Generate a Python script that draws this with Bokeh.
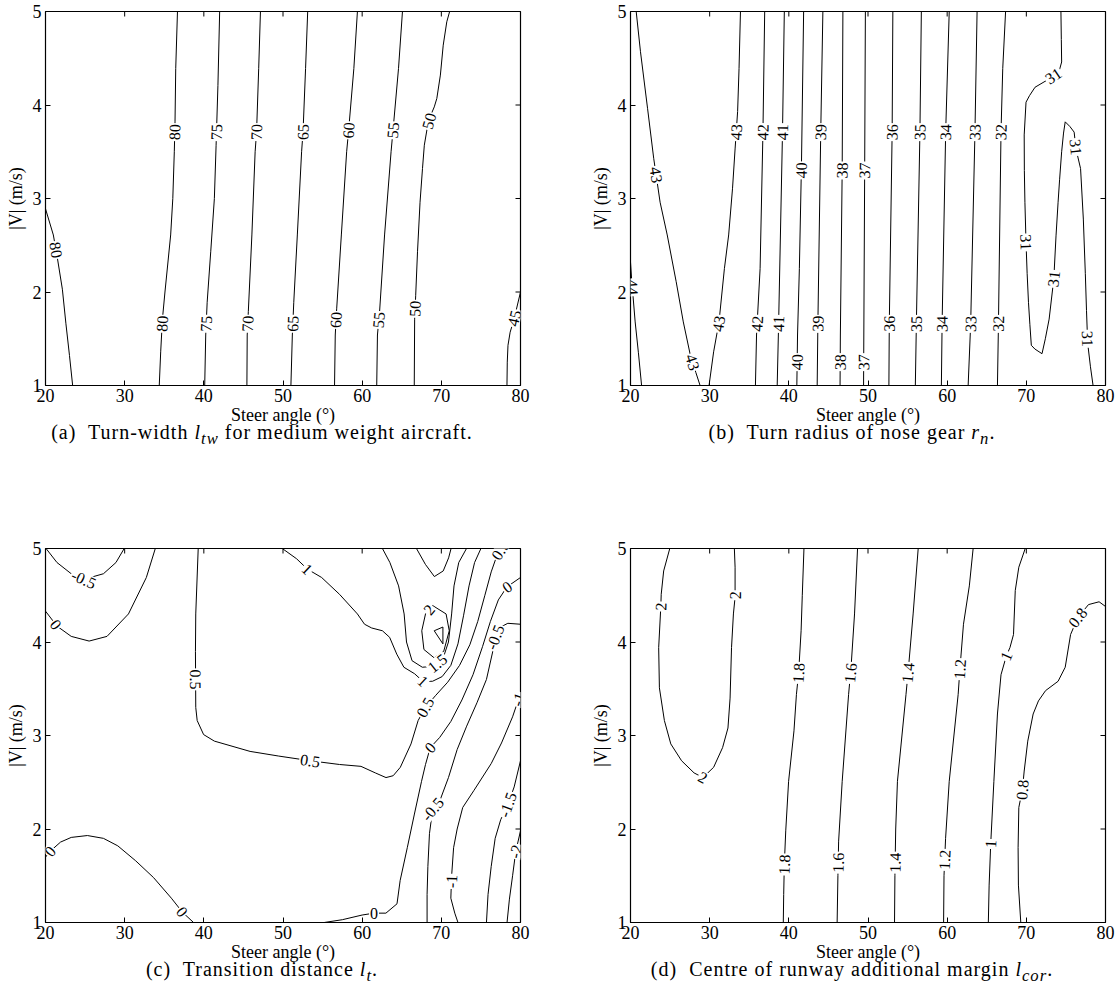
import math
from bokeh.plotting import figure
from bokeh.models import ColumnDataSource, FixedTicker, Range1d, Div
from bokeh.layouts import column, row
from bokeh.embed import file_html
from bokeh.resources import INLINE
from bokeh.core.properties import value

X_TICKS = [20, 30, 40, 50, 60, 70, 80]
Y_TICKS = [1, 2, 3, 4, 5]
X_LABEL = "Steer angle (°)"
Y_LABEL = "|V| (m/s)"

# ---------------- Panel (a): turn-width ----------------
a_lines = [
    ([20.0, 20.99, 21.45, 22.13, 22.58, 23.03, 23.43], [2.89, 2.61, 2.39, 2.03, 1.66, 1.32, 1.0]),
    ([36.67, 36.45, 36.36, 36.27, 36.08, 35.81, 35.09, 34.77, 34.55, 34.37], [5, 4.39, 3.82, 3.5, 3.0, 2.61, 2.0, 1.71, 1.36, 1.0]),
    ([42.0, 41.78, 41.55, 41.33, 40.87, 40.42, 40.24, 40.11], [5, 4.21, 3.57, 3.0, 2.43, 1.89, 1.54, 1.0]),
    ([47.15, 46.93, 46.66, 46.48, 46.07, 45.62, 45.48, 45.44], [5, 4.39, 3.71, 3.5, 2.61, 1.79, 1.54, 1.0]),
    ([53.12, 52.85, 52.53, 52.35, 51.81, 51.36, 51.18, 51.0], [5, 4.39, 3.71, 3.5, 2.61, 1.89, 1.54, 1.0]),
    ([59.4, 58.95, 58.27, 58.04, 57.37, 56.78, 56.6, 56.51], [5, 4.39, 3.71, 3.5, 2.61, 1.82, 1.54, 1.0]),
    ([65.09, 64.59, 63.92, 63.65, 62.83, 62.2, 61.93, 61.84], [5, 4.39, 3.75, 3.5, 2.61, 1.79, 1.54, 1.0]),
    ([71.05, 70.69, 70.24, 69.88, 69.43, 69.11, 68.66, 68.21, 67.85, 67.62, 67.31, 66.99, 66.76, 66.63, 66.58],
     [5.0, 4.89, 4.64, 4.32, 4.07, 3.98, 3.89, 3.75, 3.57, 3.32, 2.96, 2.43, 1.96, 1.71, 1.0]),
    ([78.29, 78.33, 78.42, 78.69, 79.19, 80.0], [1.0, 1.25, 1.43, 1.57, 1.71, 2.0]),
]
a_lab_text = ["80", "80", "80", "75", "75", "70", "70", "65", "65", "60", "60", "55", "55", "50", "50", "45"]
a_lab_x = [21.35, 36.36, 34.85, 41.5, 40.33, 46.66, 45.58, 52.53, 51.3, 58.3, 56.85, 63.85, 62.25, 68.4, 66.7, 79.2]
a_lab_y = [2.45, 3.71, 1.66, 3.71, 1.66, 3.71, 1.66, 3.71, 1.66, 3.73, 1.70, 3.73, 1.70, 3.83, 1.82, 1.72]

# ---------------- Panel (b): nose-gear turn radius ----------------
b_lines = [
    ([20.0, 20.14, 20.59, 21.0, 21.4], [2.32, 2.14, 1.68, 1.35, 1.0]),
    ([20.72, 21.26, 22.16, 22.93, 23.74, 24.64, 25.77, 26.67, 27.57, 28.25, 28.79],
     [5.0, 4.57, 3.96, 3.43, 2.96, 2.61, 2.11, 1.68, 1.32, 1.14, 1.0]),
    ([29.92, 30.5, 31.18, 31.86, 32.4, 32.89, 33.21, 33.53, 33.71, 33.89],
     [1.0, 1.36, 1.68, 2.25, 2.61, 3.11, 3.53, 3.93, 4.39, 5.0]),
    ([36.95, 36.73, 36.37, 35.92, 35.78], [5, 3.71, 2.25, 1.54, 1.0]),
    ([39.43, 39.2, 38.71, 38.53], [5, 3.71, 1.66, 1.0]),
    ([41.87, 41.6, 41.33, 41.1, 41.01], [5, 3.39, 2.25, 1.54, 1.0]),
    ([44.3, 44.03, 43.67, 43.58], [5, 3.71, 1.66, 1.0]),
    ([46.83, 46.74, 46.51, 46.47], [5, 3.32, 1.54, 1.0]),
    ([49.67, 49.58, 49.44], [5, 3.32, 1.0]),
    ([53.14, 53.05, 52.69, 52.64], [5, 3.71, 1.66, 1.0]),
    ([56.74, 56.56, 56.11, 55.98], [5, 3.71, 1.66, 1.0]),
    ([60.26, 59.81, 59.36, 59.27], [5, 3.71, 1.66, 1.0]),
    ([63.78, 63.51, 62.97, 62.65], [5, 3.71, 1.66, 1.0]),
    ([67.38, 67.02, 66.8, 66.48, 66.35], [5, 4.39, 3.71, 1.66, 1.0]),
    ([74.37, 74.42, 74.46, 74.2, 73.56, 72.5, 71.1, 70.4, 69.96, 69.73, 69.75, 69.82, 69.96, 70.1, 70.27, 70.45,
      70.63, 71.08, 71.98, 72.4, 72.88, 73.47, 73.75, 74.01, 74.2, 74.46, 74.7, 74.91, 75.5, 76.04, 76.27, 76.85,
      77.2, 77.45, 77.6, 77.75, 78.1, 78.43],
     [5.0, 4.7, 4.46, 4.38, 4.32, 4.26, 4.19, 4.1, 4.03, 3.68, 3.3, 2.96, 2.53, 2.2, 1.89, 1.65,
      1.43, 1.39, 1.34, 1.5, 1.71, 2.14, 2.6, 2.96, 3.2, 3.5, 3.7, 3.82, 3.77, 3.71, 3.53, 3.32,
      2.78, 2.2, 1.8, 1.45, 1.2, 1.0]),
]
b_lab_text = ["44", "43", "43", "43", "43", "42", "42", "41", "41", "40", "40", "39", "39", "38", "38", "37", "37",
              "36", "36", "35", "35", "34", "34", "33", "33", "32", "32", "31", "31", "31", "31", "31"]
b_lab_x = [20.2, 23.1, 27.9, 31.2, 33.4, 36.8, 36.1, 39.2, 38.7, 41.6, 41.05, 44.05, 43.67, 46.75, 46.49, 49.58, 49.45,
           53.05, 52.7, 56.56, 56.1, 59.8, 59.36, 63.5, 62.97, 66.8, 66.48, 73.5, 69.96, 73.47, 76.2, 77.7]
b_lab_y = [2.05, 3.25, 1.25, 1.66, 3.71, 3.71, 1.66, 3.71, 1.66, 3.3, 1.25, 3.71, 1.66, 3.3, 1.25, 3.3, 1.25,
           3.71, 1.66, 3.71, 1.66, 3.71, 1.66, 3.71, 1.66, 3.71, 1.66, 4.3, 2.53, 2.14, 3.55, 1.5]

# ---------------- Panel (c): transition distance ----------------
c_lines = [
    ([20.07, 21.45, 23.25, 24.83, 27.32, 28.9, 29.94], [5.0, 4.85, 4.73, 4.67, 4.73, 4.85, 5.0]),
    ([20.0, 21.45, 23.25, 25.51, 27.77, 30.48, 32.74, 33.87], [4.33, 4.17, 4.06, 4.01, 4.06, 4.3, 4.69, 5.0]),
    ([39.29, 38.98, 38.94, 38.98, 39.16, 39.97, 41.33, 45.84, 49.46, 53.43, 57.14, 59.85, 61.66, 63.01, 63.92,
      64.82, 66.17, 67.07, 67.98, 69.3, 70.8, 72.3, 73.6, 74.6, 75.5, 76.3, 77.0, 77.6],
     [5.0, 4.3, 3.9, 3.3, 3.16, 3.01, 2.94, 2.83, 2.78, 2.73, 2.69, 2.67, 2.6, 2.55, 2.57,
      2.66, 2.91, 3.16, 3.30, 3.43, 3.57, 3.75, 3.97, 4.22, 4.5, 4.75, 4.92, 5.0]),
    ([49.91, 51.72, 53.07, 54.88, 57.14, 59.4, 60.3, 61.2, 62.56, 63.47, 64.37, 65.27, 66.63, 67.66, 68.89, 70.1,
      71.2, 72.1, 72.8, 73.5, 74.2, 75.0],
     [5.0, 4.89, 4.78, 4.69, 4.51, 4.3, 4.19, 4.15, 4.12, 4.05, 3.87, 3.73, 3.66, 3.58, 3.58, 3.63,
      3.75, 3.98, 4.28, 4.6, 4.85, 5.0]),
    ([62.56, 63.5, 64.6, 65.3, 65.6, 66.3, 67.6, 69.0, 70.2, 70.9, 71.3, 71.6, 72.2, 73.18],
     [5.0, 4.85, 4.6, 4.3, 4.0, 3.8, 3.73, 3.74, 3.82, 4.0, 4.3, 4.6, 4.85, 5.0]),
    ([66.86, 67.99, 69.12, 70.24, 70.92, 71.23], [5.0, 4.83, 4.7, 4.76, 4.9, 5.0]),
    ([68.9, 68.0, 67.53, 67.8, 69.1, 70.3, 71.0, 70.6, 68.9], [4.39, 4.3, 4.12, 3.92, 3.83, 3.9, 4.12, 4.3, 4.39]),
    ([69.1, 70.2, 70.2, 69.1], [4.12, 4.16, 3.98, 4.12]),
    ([80.0, 78.3, 77.2, 76.2, 75.2, 74.0, 72.6, 71.2, 69.8, 68.6, 68.0, 67.5, 66.6, 65.7, 64.8, 64.4, 63.0, 61.5, 60.0,
      57.5, 55.2],
     [4.69, 4.59, 4.45, 4.22, 3.95, 3.65, 3.38, 3.15, 2.98, 2.87, 2.69, 2.51, 2.16, 1.8, 1.45, 1.2, 1.1, 1.1, 1.08,
      1.03, 1.0]),
    ([80.0, 78.4, 77.25, 76.8, 76.5, 75.7, 74.5, 73.2, 72.0, 70.9, 69.8, 68.9, 68.5, 68.3, 68.2, 68.2],
     [4.19, 4.2, 4.15, 4.05, 3.9, 3.6, 3.35, 3.1, 2.85, 2.55, 2.3, 2.21, 1.95, 1.6, 1.3, 1.0]),
    ([80.0, 79.0, 77.6, 76.3, 74.1, 72.7, 72.0, 71.55, 71.3, 71.2, 71.7, 72.1],
     [3.45, 3.2, 2.92, 2.7, 2.41, 2.23, 2.0, 1.8, 1.5, 1.26, 1.1, 1.0]),
    ([80.0, 79.2, 78.4, 77.5, 76.8, 76.3, 75.9, 75.7], [2.73, 2.45, 2.26, 2.1, 1.9, 1.6, 1.3, 1.0]),
    ([80.0, 79.4, 79.0, 78.6, 78.3], [1.98, 1.76, 1.5, 1.25, 1.0]),
    ([20.0, 20.7, 21.9, 23.25, 25.29, 27.32, 29.13, 31.39, 33.65, 35.9, 37.3, 38.7],
     [1.70, 1.77, 1.86, 1.91, 1.93, 1.9, 1.82, 1.66, 1.48, 1.26, 1.11, 1.0]),
]
c_lab_text = ["-0.5", "0", "0.5", "0.5", "0.5", "1", "1", "2", "1.5", "0", "-0.5", "0", "-0.5", "0.5", "-1", "-1",
              "-1.5", "-2", "0", "0", "0"]
c_lab_x = [24.83, 21.2, 38.96, 53.43, 67.98, 53.07, 67.66, 68.4, 69.9, 78.3, 76.8, 68.6, 68.9, 77.9, 79.6, 71.2, 78.4,
           79.4, 20.6, 37.3, 61.5]
c_lab_y = [4.67, 4.18, 3.6, 2.73, 3.30, 4.78, 3.58, 4.35, 3.73, 4.59, 4.05, 2.87, 2.21, 4.96, 3.39, 1.44, 2.26,
           1.76, 1.76, 1.12, 1.1]

# ---------------- Panel (d): centre of runway margin ----------------
d_lines = [
    ([24.96, 24.19, 23.88, 23.83, 23.56, 23.65, 24.28, 25.09, 26.45, 28.03, 29.15, 30.5, 31.63, 32.31, 32.58, 32.76,
      33.0, 33.21, 33.21, 33.12],
     [5.0, 4.76, 4.51, 4.38, 3.94, 3.51, 3.16, 2.91, 2.73, 2.6, 2.55, 2.66, 2.87, 3.08, 3.4, 3.94,
      4.3, 4.48, 4.8, 5.0]),
    ([41.91, 41.7, 41.55, 41.24, 40.96, 40.65, 39.97, 39.61, 39.43, 39.35, 39.3],
     [5.0, 4.5, 4.12, 3.67, 3.44, 3.05, 2.51, 1.98, 1.62, 1.3, 1.0]),
    ([48.68, 48.3, 47.86, 47.55, 46.74, 46.29, 46.2, 46.1], [5.0, 4.3, 3.73, 3.44, 2.51, 1.87, 1.5, 1.0]),
    ([56.34, 55.7, 55.08, 54.8, 53.72, 53.5, 53.4, 53.35], [5.0, 4.3, 3.69, 3.44, 2.51, 2.0, 1.5, 1.0]),
    ([63.28, 62.8, 62.06, 61.61, 61.39, 60.26, 59.8, 59.6, 59.55], [5.0, 4.6, 4.19, 3.71, 3.44, 2.51, 1.9, 1.5, 1.0]),
    ([69.86, 69.05, 68.6, 68.38, 67.93, 67.47, 66.8, 66.35, 65.9, 65.5, 65.3, 65.2],
     [5.0, 4.8, 4.55, 4.08, 3.94, 3.85, 3.65, 3.23, 2.51, 1.84, 1.4, 1.0]),
    ([80.0, 79.19, 77.85, 76.5, 75.59, 74.91, 74.01, 72.43, 71.53, 70.86, 70.18, 69.73, 69.5, 69.05, 68.96, 69.0, 69.3],
     [4.38, 4.43, 4.4, 4.26, 4.08, 3.73, 3.58, 3.48, 3.37, 3.23, 2.94, 2.62, 2.42, 2.23, 1.8, 1.4, 1.0]),
]
d_lab_text = ["2", "2", "2", "1.8", "1.8", "1.6", "1.6", "1.4", "1.4", "1.2", "1.2", "1", "1", "0.8", "0.8"]
d_lab_x = [23.83, 29.15, 33.2, 41.24, 39.43, 47.73, 46.25, 55.1, 53.45, 61.6, 59.65, 67.47, 65.5, 76.5, 69.5]
d_lab_y = [4.38, 2.55, 4.5, 3.67, 1.62, 3.67, 1.64, 3.67, 1.64, 3.71, 1.67, 3.85, 1.84, 4.26, 2.42]

# ---------------- drawing ----------------
X_MIN, X_MAX, Y_MIN, Y_MAX = 20, 80, 1, 5
FW, FH = 475, 374
SX, SY = FW / (X_MAX - X_MIN), FH / (Y_MAX - Y_MIN)
SERIF = "Liberation Serif"
TICK_LEN = 5


def snap_labels(lines, lx, ly):
    """Place each label on its nearest contour and align it with the line."""
    out_x, out_y, out_a = [], [], []
    for x0, y0 in zip(lx, ly):
        px, py = x0 * SX, y0 * SY
        best = None
        for xs, ys in lines:
            for i in range(len(xs) - 1):
                ax, ay = xs[i] * SX, ys[i] * SY
                bx, by = xs[i + 1] * SX, ys[i + 1] * SY
                dx, dy = bx - ax, by - ay
                l2 = dx * dx + dy * dy
                t = 0.0 if l2 == 0 else max(0.0, min(1.0, ((px - ax) * dx + (py - ay) * dy) / l2))
                qx, qy = ax + t * dx, ay + t * dy
                d = (qx - px) ** 2 + (qy - py) ** 2
                if best is None or d < best[0]:
                    best = (d, qx / SX, qy / SY, math.degrees(math.atan2(dy, dx)))
        ang = best[3]
        while ang > 90:
            ang -= 180
        while ang <= -90:
            ang += 180
        out_x.append(best[1])
        out_y.append(best[2])
        out_a.append(ang)
    return out_x, out_y, out_a


def make_panel(lines, ltext, lx, ly, left, right, top, bottom):
    p = figure(frame_width=FW, frame_height=FH, x_range=Range1d(X_MIN, X_MAX), y_range=Range1d(Y_MIN, Y_MAX),
               output_backend="svg", toolbar_location=None,
               min_border_left=left, min_border_right=right, min_border_top=top, min_border_bottom=bottom)
    p.grid.visible = False
    p.outline_line_color = "black"
    p.outline_line_width = 1.2
    p.background_fill_color = "white"
    p.border_fill_color = "white"
    for ax, ticks in ((p.xaxis[0], X_TICKS), (p.yaxis[0], Y_TICKS)):
        ax.ticker = FixedTicker(ticks=ticks)
        ax.major_tick_in = TICK_LEN
        ax.major_tick_out = 0
        ax.minor_tick_line_color = None
        ax.axis_line_color = None
        ax.major_tick_line_color = "black"
        ax.major_label_text_font = SERIF
        ax.major_label_text_font_size = "18px"
        ax.major_label_text_color = "black"
        ax.axis_label_text_font = SERIF
        ax.axis_label_text_font_size = "18px"
        ax.axis_label_text_font_style = "normal"
        ax.axis_label_text_color = "black"
    p.xaxis[0].major_label_standoff = 3
    p.xaxis[0].axis_label_standoff = 0
    p.yaxis[0].major_label_standoff = 4
    p.yaxis[0].axis_label_standoff = 4
    p.xaxis[0].axis_label = X_LABEL
    p.yaxis[0].axis_label = Y_LABEL

    # inward ticks on the top and right edges of the box
    p.segment(x0=X_TICKS, y0=[Y_MAX] * len(X_TICKS), x1=X_TICKS, y1=[Y_MAX - TICK_LEN / SY] * len(X_TICKS),
              line_color="black", line_width=1)
    p.segment(x0=[X_MAX] * len(Y_TICKS), y0=Y_TICKS, x1=[X_MAX - TICK_LEN / SX] * len(Y_TICKS), y1=Y_TICKS,
              line_color="black", line_width=1)

    p.multi_line(xs=[l[0] for l in lines], ys=[l[1] for l in lines], line_color="black", line_width=1)
    sx, sy, sa = snap_labels(lines, lx, ly)
    src = ColumnDataSource(dict(x=sx, y=sy, text=ltext, angle=sa))
    p.text(x="x", y="y", text="text", angle="angle", angle_units="deg", source=src,
           text_align="center", text_baseline="middle", text_color="black",
           text_font=value(SERIF), text_font_size="16px",
           background_fill_color="white", padding=1)
    return p


def caption(html, width, height, center):
    style = ("font-family:'Liberation Serif',serif;font-size:20px;letter-spacing:1px;color:black;"
             "white-space:nowrap;line-height:24px;position:relative;top:-11px;"
             f"width:{2 * center}px;text-align:center;")
    return Div(text=f'<div style="{style}">{html}</div>', width=width, height=height, margin=(0, 0, 0, 0))


pa = make_panel(a_lines, a_lab_text, a_lab_x, a_lab_y, 45, 65, 11, 46)
pb = make_panel(b_lines, b_lab_text, b_lab_x, b_lab_y, 45, 10, 11, 46)
pc = make_panel(c_lines, c_lab_text, c_lab_x, c_lab_y, 45, 65, 11, 46)
pd = make_panel(d_lines, d_lab_text, d_lab_x, d_lab_y, 45, 10, 11, 46)

cap_a = caption("(a)&nbsp; Turn-width <i>l</i><sub><i>tw</i></sub> for medium weight aircraft.", 585, 106, 262)
cap_b = caption("(b)&nbsp; Turn radius of nose gear <i>r</i><sub><i>n</i></sub>.", 530, 106, 267)
cap_c = caption("(c)&nbsp; Transition distance <i>l</i><sub><i>t</i></sub>.", 585, 30, 262)
cap_d = caption("(d)&nbsp; Centre of runway additional margin <i>l</i><sub><i>cor</i></sub>.", 530, 30, 267)

layout = column(row(pa, pb), row(cap_a, cap_b), row(pc, pd), row(cap_c, cap_d))
open("out.html", "w").write(file_html(layout, INLINE))
